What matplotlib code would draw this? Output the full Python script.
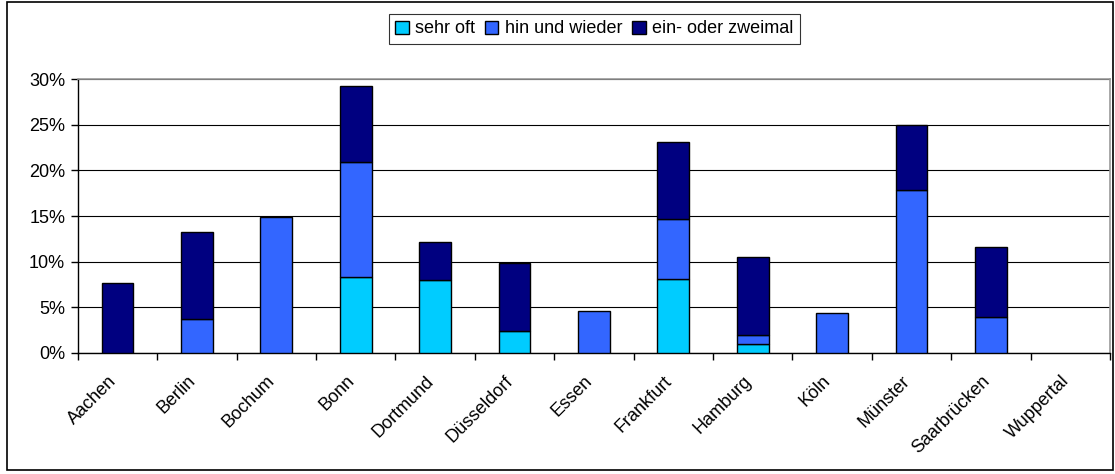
import numpy as np
import matplotlib
matplotlib.use('Agg')
import matplotlib.pyplot as plt
import matplotlib.transforms as mtransforms
from matplotlib.patches import Rectangle
from matplotlib.ticker import PercentFormatter

plt.rcParams['font.family'] = ['Liberation Sans', 'DejaVu Sans']

# Daten (Anteile in %)
staedte = ['Aachen', 'Berlin', 'Bochum', 'Bonn', 'Dortmund', 'Düsseldorf', 'Essen',
           'Frankfurt', 'Hamburg', 'Köln', 'Münster', 'Saarbrücken', 'Wuppertal']
sehr_oft = [0, 0, 0, 8.3, 8.0, 2.4, 0, 8.1, 1.0, 0, 0, 0, 0]
hin_und_wieder = [0, 3.7, 14.9, 12.6, 0, 0, 4.6, 6.6, 1.0, 4.4, 17.9, 3.9, 0]
ein_zweimal = [7.7, 9.5, 0, 8.3, 4.1, 7.4, 0, 8.4, 8.5, 0, 7.1, 7.7, 0]

fig = plt.figure(figsize=(11.15, 4.74), dpi=100)
ax = fig.add_axes([0.0697, 0.2553, 0.9258, 0.578])

x = np.arange(len(staedte))
s1 = np.array(sehr_oft)
s2 = np.array(hin_und_wieder)
s3 = np.array(ein_zweimal)
breite = 0.4
kw = dict(width=breite, edgecolor='black', linewidth=1.0, zorder=3)

# nur Segmente > 0 zeichnen (sonst Striche bei 0)
reihen = [(s1, np.zeros_like(s1), '#00CCFF', 'sehr oft'),
          (s2, s1, '#3366FF', 'hin und wieder'),
          (s3, s1 + s2, '#000080', 'ein- oder zweimal')]
for werte, unten, farbe, name in reihen:
    m = werte > 0
    ax.bar(x[m], werte[m], bottom=unten[m], color=farbe, label=name, **kw)

ax.set_xlim(-0.5, len(staedte) - 0.5)
ax.set_ylim(0, 30)
ax.set_yticks(np.arange(0, 31, 5))
ax.yaxis.set_major_formatter(PercentFormatter(decimals=0))
ax.grid(axis='y', color='black', linewidth=0.8, zorder=0)

# Ticks zwischen den Kategorien, Beschriftung in der Mitte
ax.set_xticks(np.arange(-0.5, len(staedte), 1))
ax.set_xticklabels([])
ax.set_xticks(x, minor=True)
ax.set_xticklabels(staedte, minor=True, rotation=45, ha='right',
                   rotation_mode='anchor', fontsize=13)
ax.tick_params(axis='x', which='minor', length=0, pad=14)
ax.tick_params(axis='x', which='major', length=5, width=1, direction='out')
ax.tick_params(axis='y', length=5, width=1, labelsize=13, pad=4)

verschiebung = mtransforms.ScaledTranslation(-10 / 100, 0, fig.dpi_scale_trans)
for lbl in ax.get_xticklabels(minor=True):
    lbl.set_transform(lbl.get_transform() + verschiebung)

for s in ['left', 'bottom']:
    ax.spines[s].set_color('black')
    ax.spines[s].set_linewidth(1)
for s in ['top', 'right']:
    ax.spines[s].set_color('#999999')
    ax.spines[s].set_linewidth(1.2)

leg = fig.legend(loc='center', bbox_to_anchor=(0.533, 0.939), ncol=3,
                 fontsize=13, frameon=True, fancybox=False, edgecolor='black',
                 handlelength=0.75, handleheight=0.75, handletextpad=0.35,
                 columnspacing=0.55, borderpad=0.35)
leg.get_frame().set_linewidth(0.8)

fig.patches.append(Rectangle((0.006, 0.008), 0.992, 0.988, transform=fig.transFigure,
                             fill=False, edgecolor='black', linewidth=1.2))

fig.savefig('out.png', dpi=100)
